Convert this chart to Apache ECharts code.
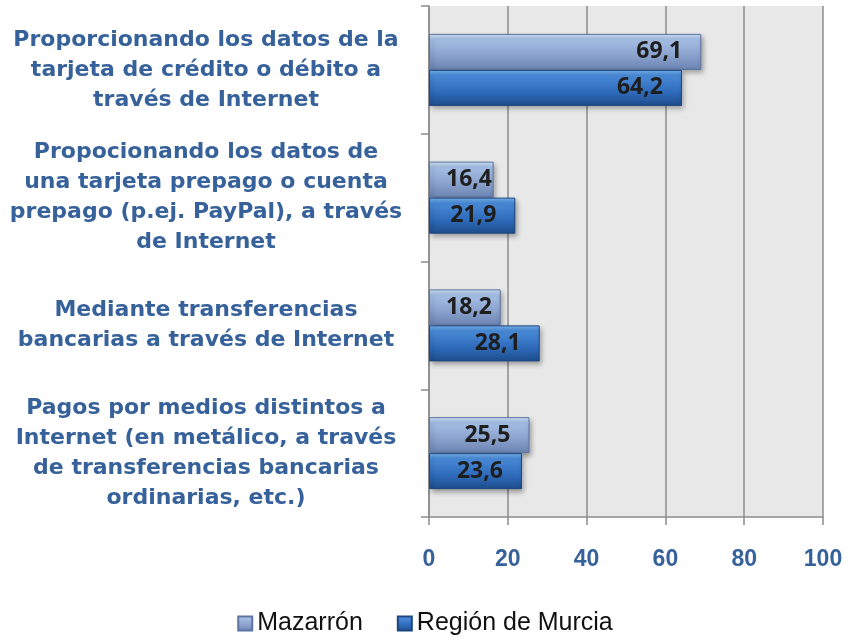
<!DOCTYPE html>
<html>
<head>
<meta charset="utf-8">
<script src="https://cdn.jsdelivr.net/npm/echarts@6/dist/echarts.min.js"></script>
<style>
  html, body { margin: 0; padding: 0; background: #fff; }
  #chart { width: 850px; height: 643px; }
</style>
</head>
<body>
<div id="chart"></div>
<script>
// categorías (de arriba a abajo)
const categories = [
  'Proporcionando los datos de la\ntarjeta de crédito o débito a\ntravés de Internet',
  'Propocionando los datos de\nuna tarjeta prepago o cuenta\nprepago (p.ej. PayPal), a través\nde Internet',
  'Mediante transferencias\nbancarias a través de Internet',
  'Pagos por medios distintos a\nInternet (en metálico, a través\nde transferencias bancarias\nordinarias, etc.)'
]
const mazarron = [69.1, 16.4, 18.2, 25.5]
const murcia = [64.2, 21.9, 28.1, 23.6]
const xTicks = [0, 20, 40, 60, 80, 100]

const labelBlue = '#36619a'
const gridGray = '#8c8c8c'
const gridLeft = 429

const chart = echarts.init(document.getElementById('chart'))

const gradient = (stops) => new echarts.graphic.LinearGradient(0, 0, 0, 1, stops)

const valueLabel = {
  show: true,
  position: 'insideRight',
  distance: 19,
  color: '#1e1e1e',
  fontFamily: 'Open Sans',
  fontWeight: 'bold',
  fontSize: 23,
  formatter: (p) => String(p.value).replace('.', ',')
}

// como en Excel: la etiqueta no se sale por la izquierda de la barra
const keepInside = (p) => ({ dx: Math.max(0, gridLeft + 17 - p.labelRect.x) })

chart.setOption({
  animation: false,
  legend: {
    bottom: 2,
    left: 'center',
    itemWidth: 14,
    itemHeight: 14,
    itemGap: 34,
    icon: 'rect',
    textStyle: { fontFamily: 'Liberation Sans', fontSize: 25, color: '#111' },
    data: ['Mazarrón', 'Región de Murcia']
  },
  grid: {
    left: gridLeft,
    right: 27,
    top: 6,
    bottom: 126,
    show: true,
    backgroundColor: '#e8e8e8',
    borderWidth: 0
  },
  xAxis: {
    type: 'value',
    min: xTicks[0],
    max: xTicks[xTicks.length - 1],
    interval: 20,
    axisLine: { show: true, lineStyle: { color: gridGray, width: 1.5 } },
    axisTick: { show: true, length: 8, lineStyle: { color: gridGray, width: 1.5 } },
    splitLine: { show: true, lineStyle: { color: gridGray, width: 1.5 } },
    axisLabel: {
      margin: 31,
      color: labelBlue,
      fontFamily: 'Liberation Sans',
      fontWeight: 'bold',
      fontSize: 23
    }
  },
  yAxis: {
    type: 'category',
    inverse: true,
    data: categories,
    axisLine: { show: true, lineStyle: { color: gridGray, width: 1.5 } },
    axisTick: { show: true, length: 8, lineStyle: { color: gridGray, width: 1.5 } },
    axisLabel: {
      margin: 223,
      align: 'center',
      color: labelBlue,
      fontFamily: 'DejaVu Sans',
      fontWeight: 'bold',
      fontSize: 22,
      lineHeight: 30
    }
  },
  series: [
    {
      name: 'Mazarrón',
      type: 'bar',
      data: mazarron,
      barWidth: 36,
      barGap: '0%',
      itemStyle: {
        color: gradient([
          { offset: 0, color: '#d3e6fb' },
          { offset: 0.15, color: '#a6c0e6' },
          { offset: 0.6, color: '#8aa2cc' },
          { offset: 1, color: '#6a83b2' }
        ]),
        borderColor: '#5d74a0',
        borderWidth: 1,
        shadowColor: 'rgba(0,0,0,0.35)',
        shadowBlur: 5,
        shadowOffsetX: 2,
        shadowOffsetY: 3
      },
      label: valueLabel,
      labelLayout: keepInside
    },
    {
      name: 'Región de Murcia',
      type: 'bar',
      data: murcia,
      barWidth: 36,
      itemStyle: {
        color: gradient([
          { offset: 0, color: '#7ab6f2' },
          { offset: 0.15, color: '#4a8bd8' },
          { offset: 0.6, color: '#2f6cbc' },
          { offset: 1, color: '#1d4d8c' }
        ]),
        borderColor: '#1c4680',
        borderWidth: 1,
        shadowColor: 'rgba(0,0,0,0.35)',
        shadowBlur: 5,
        shadowOffsetX: 2,
        shadowOffsetY: 3
      },
      label: valueLabel,
      labelLayout: keepInside
    }
  ]
})
</script>
</body>
</html>
